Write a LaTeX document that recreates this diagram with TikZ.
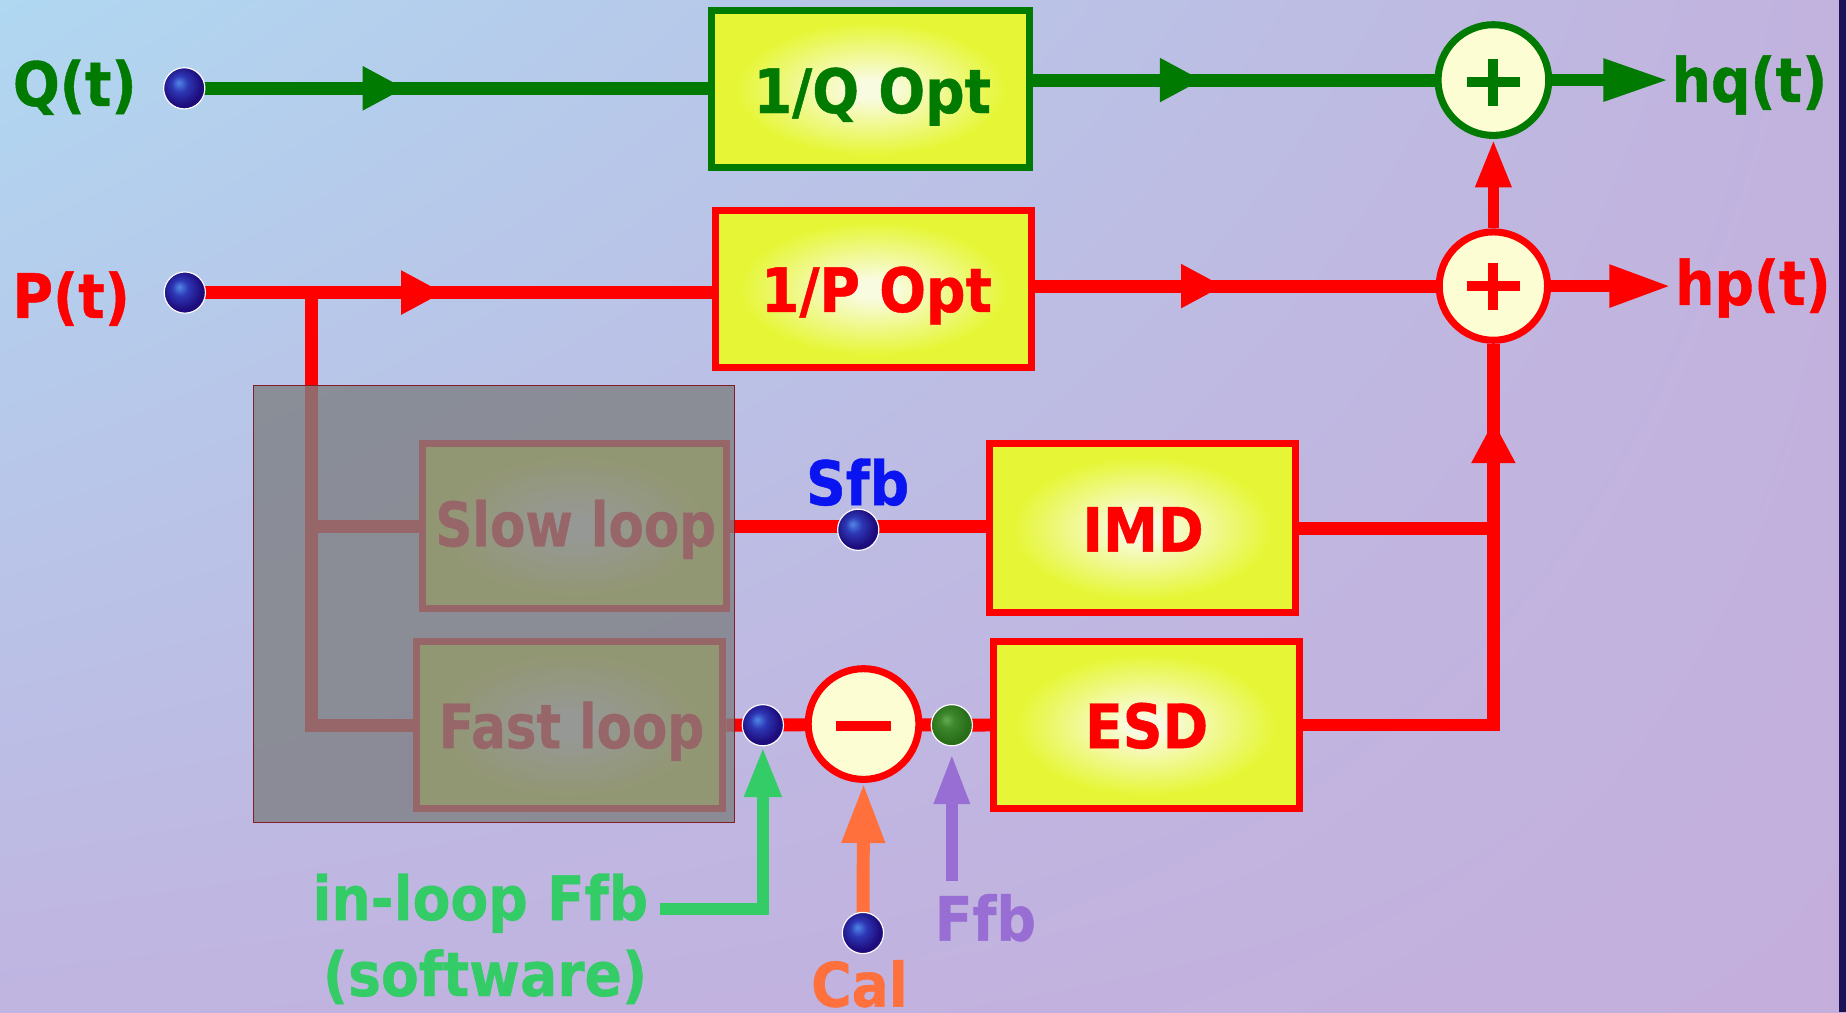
\documentclass[tikz,border=0pt]{standalone}
\usepackage{fontspec}
\newfontfamily\lblfont{DejaVu Sans}[FakeStretch=0.9,FakeBold=0.7]
\newfontfamily\lblfontn{DejaVu Sans}[FakeStretch=0.84,FakeBold=0.7]
\usetikzlibrary{arrows.meta,decorations.markings,shadings}
\definecolor{bgUL}{RGB}{176,216,241}
\definecolor{bgUR}{RGB}{194,178,222}
\definecolor{bgLL}{RGB}{192,180,225}
\definecolor{bgLR}{RGB}{196,175,220}
\definecolor{navyedge}{RGB}{28,18,88}
\definecolor{dkgreen}{RGB}{0,122,0}
\definecolor{boxin}{RGB}{249,251,224}
\definecolor{boxout}{RGB}{230,246,55}
\definecolor{cream}{RGB}{253,253,212}
\definecolor{dothi}{RGB}{80,135,230}
\definecolor{dotmid}{RGB}{45,55,180}
\definecolor{dotdk}{RGB}{30,12,125}
\definecolor{gdothi}{RGB}{100,170,80}
\definecolor{gdotmid}{RGB}{62,135,45}
\definecolor{gdotdk}{RGB}{40,110,25}
\definecolor{sfbblue}{RGB}{10,20,240}
\definecolor{inlgreen}{RGB}{52,204,102}
\definecolor{calorange}{RGB}{255,112,60}
\definecolor{ffbpurple}{RGB}{152,110,212}
\definecolor{ovgray}{RGB}{126,128,131}
\definecolor{ovedge}{RGB}{130,30,40}
\pgfdeclareradialshading{boxshade}{\pgfpoint{0bp}{0bp}}{color(0bp)=(boxin); color(3bp)=(boxin); color(21bp)=(boxout); color(50bp)=(boxout)}
\pgfdeclareradialshading{bluedot}{\pgfpoint{-7bp}{7bp}}{color(0bp)=(dothi); color(10bp)=(dotmid); color(24bp)=(dotdk); color(50bp)=(dotdk)}
\pgfdeclareradialshading{greendot}{\pgfpoint{-7bp}{7bp}}{color(0bp)=(gdothi); color(9bp)=(gdotmid); color(24bp)=(gdotdk); color(50bp)=(gdotdk)}
\pgfdeclarelayer{bg}
\pgfdeclarelayer{lines}
\pgfdeclarelayer{over}
\pgfsetlayers{bg,lines,main,over}
\begin{document}
\begin{tikzpicture}[x=0.01cm,y=-0.01cm,
 lbl/.style={inner sep=0pt, outer sep=0pt, anchor=base, font=\lblfont\bfseries\fontsize{14.8}{17}\selectfont},
 lbln/.style={lbl, font=\lblfontn\bfseries\fontsize{14.8}{17}\selectfont},
 blk/.style={rectangle, line width=0.06cm, shade, shading=boxshade, inner sep=0pt},
 sumc/.style={circle, line width=0.06cm, fill=cream, inner sep=0pt, minimum size=0.94cm},
 bdot/.style={circle, inner sep=0pt, minimum width=0.34cm, minimum height=0.35cm, draw=white, line width=0.01cm, shade, shading=bluedot},
 gball/.style={bdot, shading=greendot},
 rl/.style={color=red, line width=0.11cm},
 gl/.style={color=dkgreen, line width=0.11cm},
 midarr/.style={postaction={decorate}, decoration={markings, mark=at position #1 with {\arrow{Triangle[length=0.36cm,width=0.35cm]}}}}
 ]
\useasboundingbox (0,0) rectangle (1568,860);

% blocks
\node[blk, draw=dkgreen, minimum width=2.70cm, minimum height=1.33cm] (qbox) at (739.6,75.6) {};
\node[lbl, text=dkgreen] (qboxt) at (741,96) {1/Q Opt};
\node[blk, draw=red, minimum width=2.68cm, minimum height=1.335cm] (pbox) at (742,245.3) {};
\node[lbl, text=red] (pboxt) at (744.5,265) {1/P Opt};
\node[blk, draw=red, minimum width=2.58cm, minimum height=1.40cm] (slow) at (488,447) {};
\node[lbln, text=red] (slowt) at (489,464) {Slow loop};
\node[blk, draw=red, minimum width=2.60cm, minimum height=1.42cm] (fast) at (484,616) {};
\node[lbln, text=red] (fastt) at (485.5,635.5) {Fast loop};
\node[blk, draw=red, minimum width=2.595cm, minimum height=1.43cm] (imd) at (970.3,448.5) {};
\node[lbl, text=red] (imdt) at (971,468.6) {IMD};
\node[blk, draw=red, minimum width=2.595cm, minimum height=1.415cm] (esd) at (973.8,615.8) {};
\node[lbl, text=red] (esdt) at (974,635.5) {ESD};

% summing junctions
\node[sumc, draw=dkgreen] (qsum) at (1268.5,68) {};
\node[sumc, draw=red, minimum size=0.92cm] (psum) at (1268.5,243) {};
\node[sumc, draw=red] (minus) at (733.5,615) {};
\draw[dkgreen, line width=0.085cm] ([xshift=-0.225cm,yshift=-0.02cm]qsum.center) -- ([xshift=0.225cm,yshift=-0.02cm]qsum.center)
  ([yshift=-0.22cm]qsum.center) -- ([yshift=0.18cm]qsum.center);
\draw[red, line width=0.085cm] ([xshift=-0.225cm]psum.center) -- ([xshift=0.225cm]psum.center)
  ([yshift=-0.2cm]psum.center) -- ([yshift=0.2cm]psum.center);
\draw[red, line width=0.085cm] ([xshift=-0.23cm,yshift=-0.02cm]minus.center) -- ([xshift=0.23cm,yshift=-0.02cm]minus.center);

% dots
\node[bdot] (qdot) at (156.5,75) {};
\node[bdot] (pdot) at (157,248.5) {};
\node[bdot] (sfbdot) at (729,450) {};
\node[bdot] (fdot) at (648,616) {};
\node[gball] (gdt) at (808.5,616) {};
\node[bdot] (caldot) at (733,792.5) {};

% labels
\node[lbl, text=dkgreen] (qlab) at (63.5,90) {Q(t)};
\node[lbl, text=red] (plab) at (60.5,270) {P(t)};
\node[lbl, text=dkgreen] (hq) at (1486,86.5) {hq(t)};
\node[lbl, text=red] (hp) at (1489,259) {hp(t)};
\node[lbl, text=sfbblue] (sfb) at (728.5,429) {Sfb};
\node[lbl, text=inlgreen] (inl) at (408,781.5) {in-loop Ffb};
\node[lbl, text=inlgreen] (soft) at (412,846) {(software)};
\node[lbl, text=calorange] (cal) at (730,855) {Cal};
\node[lbl, text=ffbpurple] (ffb) at (837,799) {Ffb};

\coordinate (pbr) at (264.5,248.5);
\coordinate (inlstart) at (561,772);
\coordinate (ffbstart) at (808.5,748);

\begin{pgfonlayer}{bg}
\shade[upper left=bgUL, upper right=bgUR, lower left=bgLL, lower right=bgLR] (0,0) rectangle (1568,860);
\fill[navyedge] (1562,0) rectangle (1568,860);
\end{pgfonlayer}

\begin{pgfonlayer}{lines}
\draw[gl, midarr=1.875cm] (qdot.center) -- (qdot.center -| qbox.west);
\draw[gl, midarr=1.434cm] (qbox.east |- qsum.center) -- (qsum.west);
\draw[gl, line width=0.1cm, -{Triangle[length=0.55cm,width=0.34cm]}, shorten >=0.03cm] (qsum.east) -- (qsum.east -| hq.west);
\draw[rl, midarr=2.196cm] (pdot.center) -- (pdot.center -| pbox.west);
\draw[rl, midarr=1.6cm] (pbox.east |- psum.center) -- (psum.west);
\draw[rl, line width=0.1cm, -{Triangle[length=0.52cm,width=0.34cm]}, shorten >=0.04cm] (psum.east) -- (psum.east -| hp.west);
\draw[rl, line width=0.1cm, -{Triangle[length=0.41cm,width=0.28cm]}] (psum.north) -- (qsum.south);
\draw[rl] (pbr) -- (pbr |- fast.west) -- (fast.west);
\draw[rl] (pbr |- slow.west) -- (slow.west);
\draw[rl] (slow.east) -- (slow.east -| imd.west);
\draw[rl] (imd.east) -- (imd.east -| psum.south);
\draw[rl, midarr=4.2cm] (esd.east) -| (psum.south);
\draw[rl] (fast.east) -- (fdot.center) -- (minus.center) -- (gdt.center) -- (esd.west);
\draw[color=inlgreen, line width=0.105cm, -{Triangle[length=0.43cm,width=0.29cm]}] (inlstart) -| (fdot.south);
\draw[color=calorange, line width=0.11cm, -{Triangle[length=0.51cm,width=0.34cm]}] (caldot.center) -- (minus.south);
\draw[color=ffbpurple, line width=0.1cm, -{Triangle[length=0.43cm,width=0.28cm]}, shorten >=0.06cm] (ffbstart) -- (gdt.south);
\end{pgfonlayer}

\begin{pgfonlayer}{over}
\draw[draw=ovedge, line width=0.012cm, fill=ovgray, fill opacity=0.8] (215.5,327.5) rectangle (624,698.5);
\end{pgfonlayer}
\end{tikzpicture}
\end{document}
